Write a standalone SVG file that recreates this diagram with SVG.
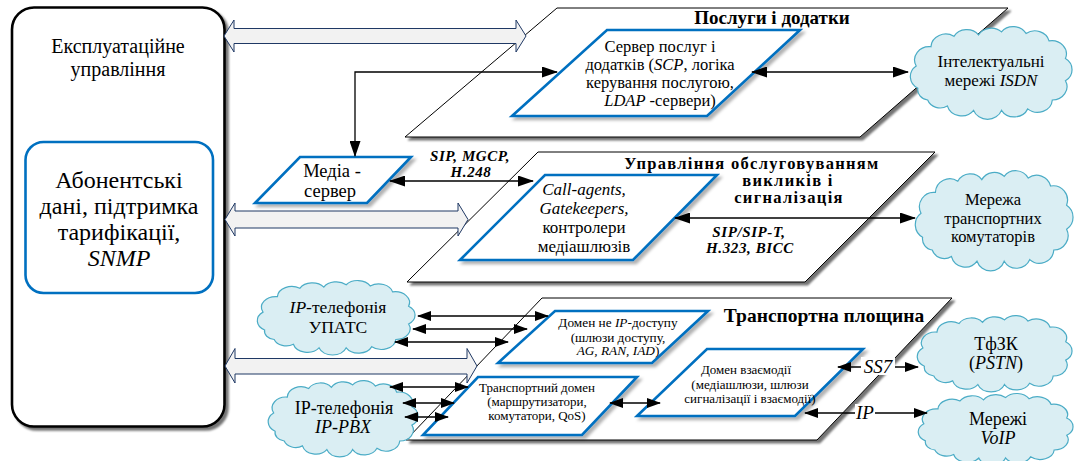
<svg xmlns="http://www.w3.org/2000/svg" xmlns:xlink="http://www.w3.org/1999/xlink" width="1076" height="461" viewBox="0 0 1076 461" font-family="'Liberation Serif', 'Times New Roman', serif">
<style>
text{font-family:'Liberation Serif','Times New Roman',serif;fill:#000}
.mid{text-anchor:middle}
.i{font-style:italic}
.b{font-weight:bold}
.plane{fill:#fff;stroke:#000;stroke-width:1;filter:url(#sh)}
.blue{fill:#fff;stroke:#0070C0;stroke-width:2.6;stroke-linejoin:miter;filter:url(#sh2)}
.hollow{fill:#F2F2F2;stroke:#1F3864;stroke-width:1}
.ln{fill:none;stroke:#000;stroke-width:1.3;marker-start:url(#ah);marker-end:url(#ah)}
.lns{fill:none;stroke:#000;stroke-width:1.3;marker-start:url(#ahs);marker-end:url(#ahs)}
.cloud{fill:#DAEEF3;stroke:#4BACC6;stroke-width:1.2}
.lbl{font-weight:bold;font-style:italic;font-size:15px;letter-spacing:0.6px;text-anchor:middle}
</style>
<defs>
<filter id="sh" x="-5%" y="-5%" width="115%" height="120%"><feDropShadow dx="3" dy="3" stdDeviation="1.2" flood-color="#000" flood-opacity="0.55"/></filter>
<filter id="sh2" x="-5%" y="-5%" width="115%" height="125%"><feDropShadow dx="3" dy="3" stdDeviation="1.5" flood-color="#000" flood-opacity="0.3"/></filter>
<marker id="ah" viewBox="0 0 16 11" refX="15" refY="5.5" markerWidth="16" markerHeight="11" markerUnits="userSpaceOnUse" orient="auto-start-reverse"><path d="M0,0 L16,5.5 L0,11 Z" fill="#000"/></marker>
<marker id="ahs" viewBox="0 0 14 10" refX="13" refY="5" markerWidth="14" markerHeight="10" markerUnits="userSpaceOnUse" orient="auto-start-reverse"><path d="M0,0 L14,5 L0,10 Z" fill="#000"/></marker>
<path id="cl" vector-effect="non-scaling-stroke" d="M6,42 A9,9 0 0 1 5,27 A9,9 0 0 1 14,14 A9,9 0 0 1 28,7 A9,9 0 0 1 43,6 A9,9 0 0 1 57,4 A9,9 0 0 1 72,5 A9,9 0 0 1 86,10 A9,9 0 0 1 96,22 A9,9 0 0 1 96,37 A9,9 0 0 1 88,50 A9,9 0 0 1 73,56 A9,9 0 0 1 57,57 A9,9 0 0 1 40,57 A9,9 0 0 1 24,54 A8,8 0 0 1 12,50 A7,7 0 0 1 6,42 Z"/>
</defs>
<rect width="1076" height="461" fill="#fff"/>

<g id="left-box">
<rect x="12" y="7.5" width="212.5" height="419" rx="22" fill="#fff" stroke="#000" stroke-width="2.6" filter="url(#sh)"/>
<text class="mid" font-size="20" x="118" y="53">Експлуатаційне</text>
<text class="mid" font-size="20" x="118" y="76">управління</text>
</g>

<g id="subscriber-data">
<rect x="25.5" y="142" width="187.5" height="151" rx="18" fill="#fff" stroke="#0070C0" stroke-width="2.6"/>
<text class="mid" font-size="24" x="119" y="188">Абонентські</text>
<text class="mid" font-size="24" x="119" y="214">дані, підтримка</text>
<text class="mid" font-size="24" x="119" y="240">тарифікації,</text>
<text class="mid i" font-size="24" x="119" y="266">SNMP</text>
</g>

<g id="plane-services">
<polygon class="plane" points="557,8 1008,8 860,137 405,137"/>
<text class="mid b" font-size="19" x="772" y="24">Послуги і додатки</text>
</g>

<g id="plane-call-control">
<polygon class="plane" points="538,152 935,152 805,282 407,282"/>
<text class="mid b" font-size="16.5" letter-spacing="1.3" x="752" y="169">Управління обслуговуванням</text>
<text class="mid b" font-size="16.5" letter-spacing="1.3" x="788" y="186">викликів і</text>
<text class="mid b" font-size="16.5" letter-spacing="1.3" x="789" y="203">сигналізація</text>
</g>

<g id="plane-transport">
<polygon class="plane" points="542,298 952,298 817,440 406,440"/>
<text class="mid b" font-size="19.5" x="824" y="322">Транспортна площина</text>
</g>

<g id="service-server">
<polygon class="blue" points="607,30 800,30 707,116 512,116"/>
<text class="mid" font-size="16.5" x="660" y="52">Сервер послуг і</text>
<text class="mid" font-size="16.5" x="660" y="70">додатків (<tspan class="i">SCP</tspan>, логіка</text>
<text class="mid" font-size="16.5" x="660" y="88">керування послугою,</text>
<text class="mid" font-size="16.5" x="660" y="106"><tspan class="i">LDAP</tspan> -сервери)</text>
</g>

<g id="media-server">
<polygon class="blue" points="300,157 411,157 367,203 255,203"/>
<text class="mid" font-size="18.5" x="332" y="177">Медіа -</text>
<text class="mid" font-size="18.5" x="330" y="197">сервер</text>
</g>

<g id="call-agents">
<polygon class="blue" points="545,175 717,175 633,260 460,260"/>
<text class="mid i" font-size="17" x="584" y="195">Call-agents,</text>
<text class="mid i" font-size="17" x="584" y="214">Gatekeepers,</text>
<text class="mid" font-size="17" x="584" y="233">контролери</text>
<text class="mid" font-size="17" x="584" y="252">медіашлюзів</text>
</g>

<g id="non-ip-access">
<polygon class="blue" points="555,311 708,311 652,363 498,363"/>
<text class="mid" font-size="13.3" x="618" y="327">Домен не <tspan class="i">IP</tspan>-доступу</text>
<text class="mid" font-size="13.3" x="618" y="341.5">(шлюзи доступу,</text>
<text class="mid" font-size="13.3" x="618" y="355"><tspan class="i">AG, RAN, IAD</tspan>)</text>
</g>

<g id="transport-domain">
<polygon class="blue" points="478,377 637,377 582,435 423,435"/>
<text class="mid" font-size="13" x="537" y="392">Транспортний домен</text>
<text class="mid" font-size="13" x="537" y="406">(маршрутизатори,</text>
<text class="mid" font-size="13" x="537" y="420">комутатори, QoS)</text>
</g>

<g id="interworking-domain">
<polygon class="blue" points="707,349 863,349 795,416 637,416"/>
<text class="mid" font-size="13" x="746" y="374">Домен взаємодії</text>
<text class="mid" font-size="13" x="750" y="388.5">(медіашлюзи, шлюзи</text>
<text class="mid" font-size="13" x="750" y="403">сигналізації і взаємодії)</text>
</g>

<g id="cloud-isdn">
<use xlink:href="#cl" class="cloud" transform="translate(908,26) scale(1.64,1.48)"/>
<text class="mid" font-size="17" x="991" y="67">Інтелектуальні</text>
<text class="mid" font-size="17" x="991" y="86">мережі <tspan class="i">ISDN</tspan></text>
</g>

<g id="cloud-transit">
<use xlink:href="#cl" class="cloud" transform="translate(913,170) scale(1.6,1.6)"/>
<text class="mid" font-size="16.5" x="993" y="205">Мережа</text>
<text class="mid" font-size="16.5" x="993" y="223.5">транспортних</text>
<text class="mid" font-size="16.5" x="993" y="242">комутаторів</text>
</g>

<g id="cloud-upats">
<use xlink:href="#cl" class="cloud" transform="translate(255,280) scale(1.6,1.19)"/>
<text class="mid" font-size="17.5" x="338" y="313"><tspan class="i">IP</tspan>-телефонія</text>
<text class="mid" font-size="17.5" x="338" y="333">УПАТС</text>
</g>

<g id="cloud-ipbx">
<use xlink:href="#cl" class="cloud" transform="translate(266,380) scale(1.52,1.22)"/>
<text class="mid" font-size="18" x="344" y="414">IP-телефонія</text>
<text class="mid i" font-size="18" x="343" y="433">IP-PBX</text>
</g>

<g id="cloud-pstn">
<use xlink:href="#cl" class="cloud" transform="translate(915,315) scale(1.57,1.22)"/>
<text class="mid" font-size="18" x="996" y="350">ТфЗК</text>
<text class="mid" font-size="18" x="996" y="369">(<tspan class="i">PSTN</tspan>)</text>
</g>

<g id="cloud-voip">
<use xlink:href="#cl" class="cloud" transform="translate(916,393) scale(1.57,1.14)"/>
<text class="mid" font-size="18" x="998" y="425">Мережі</text>
<text class="mid i" font-size="18" x="998" y="444">VoIP</text>
</g>

<g id="connectors">
<path class="hollow" d="M224,36 L234,20 L234,28.5 L516,28.5 L516,20 L526,36 L516,52 L516,43.5 L234,43.5 L234,52 Z"/>
<path class="hollow" d="M225,219.5 L235,203 L235,211 L458,211 L458,203 L468,219.5 L458,236 L458,228 L235,228 L235,236 Z"/>
<path class="hollow" d="M225,366 L235,348.5 L235,358.5 L467,358.5 L467,348.5 L477,366 L467,383 L467,374 L235,374 L235,383 Z"/>
<path class="ln" d="M752,72 L908,72"/>
<path class="ln" d="M355,156 L355,72 L557,72"/>
<path class="ln" d="M390,181 L533,181"/>
<path class="ln" d="M675,218 L915,218"/>
<path class="lns" d="M418,316 L548,316"/>
<path class="lns" d="M413,329 L527,329"/>
<path class="lns" d="M395,342 L508,342"/>
<path class="lns" d="M390,387 L468,387"/>
<path class="lns" d="M403,403 L454,403"/>
<path class="lns" d="M405,417 L448,417"/>
<path class="lns" d="M610,403 L660,403"/>
<path class="lns" d="M838,367 L918,367"/>
<path class="lns" d="M805,413 L927,413"/>
<text class="lbl" x="470" y="160.5">SIP, MGCP,</text>
<text class="lbl" x="471" y="176.5">H.248</text>
<text class="lbl" x="749" y="237">SIP/SIP-T,</text>
<text class="lbl" x="750" y="253">H.323, BICC</text>
<rect x="861" y="357" width="34" height="18" fill="#fff"/>
<text class="mid i" font-size="19" x="878" y="373">SS7</text>
<rect x="855" y="404" width="20" height="17" fill="#fff"/>
<text class="mid i" font-size="19" x="865" y="419">IP</text>
</g>
</svg>
